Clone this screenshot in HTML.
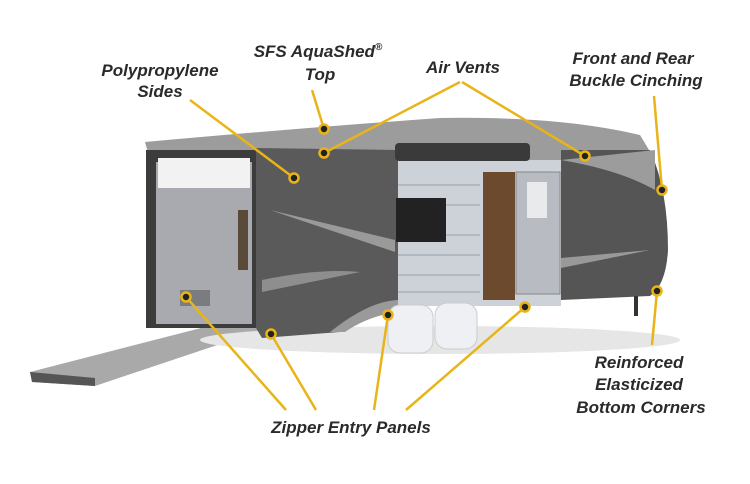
<!DOCTYPE html>
<html><head><meta charset="utf-8"><style>
html,body{margin:0;padding:0;background:#fff;}
svg{display:block}
text{font-family:"Liberation Sans",sans-serif;font-weight:bold;font-style:italic;font-size:17px;fill:#2a2a2a;}
</style></head><body>
<svg width="750" height="484" viewBox="0 0 750 484" xmlns="http://www.w3.org/2000/svg">
<rect width="750" height="484" fill="#fff"/>
<!-- ramp -->
<polygon points="30,372 240,318 262,330 95,386 32,382" fill="#a9a9a9"/>
<polygon points="30,372 95,378 95,386 32,382" fill="#555"/>
<!-- shadow -->
<ellipse cx="440" cy="340" rx="240" ry="14" fill="#e6e6e6"/>
<!-- roof -->
<path d="M145,142 Q300,128 440,118 Q560,116 640,135 L655,160 L150,160 Z" fill="#9c9c9c"/>
<!-- rear open panel -->
<rect x="146" y="150" width="110" height="178" fill="#3c3c3c"/>
<rect x="156" y="162" width="96" height="162" fill="#a8aab0"/>
<rect x="158" y="158" width="92" height="30" fill="#f2f2f2"/>
<rect x="238" y="210" width="10" height="60" fill="#5a4a3a"/>
<rect x="180" y="290" width="30" height="16" fill="#7a7c80"/>
<!-- dark side body -->
<path d="M256,148 L398,150 L398,308 Q360,320 340,332 L262,338 L256,328 Z" fill="#5a5a5a"/>
<path d="M270,210 L395,240 L395,252 Z" fill="#9a9a9a"/>
<path d="M262,280 Q320,268 360,272 L262,292 Z" fill="#8e8e8e"/>
<path d="M330,332 Q370,300 400,300 L400,312 Q370,315 345,332 Z" fill="#9a9a9a"/>
<!-- silver trailer -->
<rect x="398" y="160" width="163" height="146" fill="#cdd2d8"/>
<g stroke="#b3b9c0" stroke-width="2">
<line x1="398" y1="185" x2="480" y2="185"/><line x1="398" y1="205" x2="480" y2="205"/>
<line x1="398" y1="235" x2="480" y2="235"/><line x1="398" y1="255" x2="480" y2="255"/>
<line x1="398" y1="275" x2="480" y2="275"/><line x1="398" y1="292" x2="480" y2="292"/>
</g>
<rect x="396" y="198" width="50" height="44" fill="#222"/>
<rect x="483" y="172" width="32" height="128" fill="#6b4a2e"/>
<rect x="516" y="172" width="44" height="122" fill="#b8bcc2" stroke="#888" stroke-width="1"/>
<rect x="527" y="182" width="20" height="36" fill="#e8eaec"/>
<rect x="395" y="143" width="135" height="18" rx="4" fill="#3a3a3a"/>
<!-- front dark section -->
<path d="M561,150 L650,150 Q668,190 668,250 Q666,285 650,296 L561,300 Z" fill="#555"/>
<path d="M561,160 Q620,170 655,190 L655,150 Z" fill="#9c9c9c"/>
<path d="M561,258 L650,250 L561,268 Z" fill="#999"/>
<rect x="634" y="296" width="4" height="20" fill="#333"/>
<!-- wheels -->
<rect x="388" y="305" width="45" height="48" rx="12" fill="#eef0f4" stroke="#ccc"/>
<rect x="435" y="303" width="42" height="46" rx="12" fill="#eef0f4" stroke="#ccc"/>
<!-- callout lines -->
<g stroke="#e8b418" stroke-width="2.5" fill="none">
<line x1="190" y1="100" x2="294" y2="178"/>
<line x1="312" y1="90" x2="324" y2="129"/>
<line x1="460" y1="82" x2="324" y2="153"/>
<line x1="462" y1="82" x2="585" y2="156"/>
<line x1="654" y1="96" x2="662" y2="190"/>
<line x1="652" y1="345" x2="657" y2="291"/>
<line x1="186" y1="297" x2="286" y2="410"/>
<line x1="271" y1="334" x2="316" y2="410"/>
<line x1="388" y1="315" x2="374" y2="410"/>
<line x1="525" y1="307" x2="406" y2="410"/>
</g>
<g fill="#222" stroke="#e8b418" stroke-width="2.5">
<circle cx="324" cy="129" r="4.5"/><circle cx="324" cy="153" r="4.5"/>
<circle cx="294" cy="178" r="4.5"/><circle cx="585" cy="156" r="4.5"/>
<circle cx="662" cy="190" r="4.5"/><circle cx="186" cy="297" r="4.5"/>
<circle cx="271" cy="334" r="4.5"/><circle cx="388" cy="315" r="4.5"/>
<circle cx="525" cy="307" r="4.5"/><circle cx="657" cy="291" r="4.5"/>
</g>
<!-- labels -->
<text x="160" y="76" text-anchor="middle">Polypropylene</text>
<text x="160" y="97" text-anchor="middle">Sides</text>
<text x="318" y="57" text-anchor="middle">SFS AquaShed<tspan font-size="10" dy="-7">®</tspan></text>
<text x="320" y="80" text-anchor="middle">Top</text>
<text x="463" y="73" text-anchor="middle">Air Vents</text>
<text x="633" y="64" text-anchor="middle">Front and Rear</text>
<text x="636" y="86" text-anchor="middle">Buckle Cinching</text>
<text x="639" y="368" text-anchor="middle">Reinforced</text>
<text x="639" y="390" text-anchor="middle">Elasticized</text>
<text x="641" y="413" text-anchor="middle">Bottom Corners</text>
<text x="351" y="433" text-anchor="middle">Zipper Entry Panels</text>
</svg>
</body></html>
